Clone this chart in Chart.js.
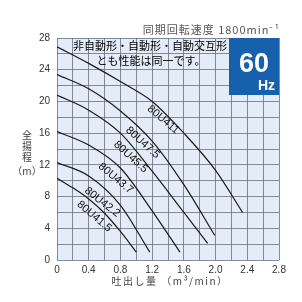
<!DOCTYPE html>
<html>
<head>
<meta charset="utf-8">
<script src="https://cdn.jsdelivr.net/npm/chart.js@4"></script>
<style>
  html, body { margin: 0; padding: 0; background: #fff; }
  #wrap { width: 302px; height: 302px; }
</style>
</head>
<body>
<div id="wrap"><canvas id="pumpChart" width="302" height="302"></canvas></div>
<script>
// tick labels
const xTicks = [0, 0.4, 0.8, 1.2, 1.6, 2.0, 2.4, 2.8];
const yTicks = [0, 4, 8, 12, 16, 20, 24, 28];

// pump models
const models = ['80U411', '80U47.5', '80U45.5', '80U43.7', '80U42.2', '80U41.5'];

// flow (m3/min) and head (m)
const q411 = [0, 0.4, 0.8, 1.2, 1.6, 2.0, 2.34];
const h411 = [26.9, 24.8, 22.5, 20.0, 16.0, 11.3, 6.0];
const q475 = [0, 0.4, 0.8, 1.2, 1.6, 1.99];
const h475 = [23.4, 21.6, 18.8, 15.0, 9.5, 3.1];
const q455 = [0, 0.4, 0.8, 1.2, 1.6, 1.9];
const h455 = [20.8, 18.9, 16.0, 11.2, 6.0, 2.1];
const q437 = [0, 0.4, 0.8, 1.2, 1.55];
const h437 = [16.2, 14.5, 11.6, 6.2, 1.0];
const q422 = [0, 0.4, 0.8, 1.17];
const h422 = [12.3, 10.6, 6.9, 1.0];
const q415 = [0, 0.2, 0.4, 0.6, 0.8, 1.0];
const h415 = [10.3, 9.1, 7.7, 5.9, 3.6, 1.0];

const flows = [q411, q475, q455, q437, q422, q415];
const heads = [h411, h475, h455, h437, h422, h415];

// where each model name sits (data coords) and its slant
const labelSpots = [
  { q: 1.34, h: 17.7, a: 40 },
  { q: 1.08, h: 14.8, a: 42 },
  { q: 0.93, h: 13.0, a: 42 },
  { q: 0.74, h: 10.3, a: 40 },
  { q: 0.57, h: 7.3, a: 38 },
  { q: 0.47, h: 5.5, a: 40 }
];

const datasets = models.map((m, i) => ({
  label: m,
  data: flows[i].map((q, j) => ({ x: q, y: heads[i][j] })),
  borderColor: '#1a1a1a',
  borderWidth: 1.2,
  pointRadius: 0,
  fill: false,
  cubicInterpolationMode: 'monotone'
}));

const JP = '"Noto Sans CJK JP", sans-serif';
const LAT = '"Liberation Sans", Arial, sans-serif';

const decor = {
  id: 'decor',
  beforeDraw(chart) {
    const { ctx, chartArea: a } = chart;
    ctx.save();
    ctx.fillStyle = '#e4edf7';
    ctx.fillRect(a.left, a.top, a.right - a.left, a.bottom - a.top);
    ctx.restore();
  },
  afterDatasetsDraw(chart) {
    const { ctx, chartArea: a, scales: { x, y } } = chart;
    ctx.save();

    // model names along the curves
    ctx.fillStyle = '#111';
    ctx.font = '11px ' + LAT;
    ctx.textAlign = 'center';
    ctx.textBaseline = 'middle';
    models.forEach((m, i) => {
      const s = labelSpots[i];
      ctx.save();
      ctx.translate(x.getPixelForValue(s.q), y.getPixelForValue(s.h));
      ctx.rotate(s.a * Math.PI / 180);
      ctx.fillText(m, 0, 0);
      ctx.restore();
    });

    // note inside the plot
    ctx.fillStyle = '#000';
    ctx.font = '11px ' + JP;
    ctx.textBaseline = 'middle';
    ctx.fillText('非自動形・自動形・自動交互形', 150, 46);
    ctx.fillText('とも性能は同一です。', 151, 61);

    // 60Hz badge
    ctx.fillStyle = '#1660ad';
    ctx.fillRect(229, a.top, a.right - 229, 57);
    ctx.fillStyle = '#fff';
    ctx.font = 'bold 27px ' + LAT;
    ctx.textAlign = 'center';
    ctx.textBaseline = 'alphabetic';
    ctx.fillText('60', 254, 72);
    ctx.font = 'bold 14px ' + LAT;
    ctx.textAlign = 'right';
    ctx.fillText('Hz', 275, 90);

    // speed caption
    ctx.fillStyle = '#555';
    ctx.font = '11px ' + JP;
    ctx.letterSpacing = '1px';
    ctx.textAlign = 'right';
    ctx.textBaseline = 'middle';
    ctx.fillText('同期回転速度 1800min⁻¹', 280, 30);

    // y axis title, stacked
    ctx.letterSpacing = '0px';
    ctx.fillStyle = '#444';
    ctx.font = '10px ' + JP;
    ctx.textAlign = 'center';
    ['全', '揚', '程'].forEach((c, i) => ctx.fillText(c, 27, 135 + i * 11));
    ctx.fillText('（m）', 27, 171);

    // x axis title
    ctx.font = '10px ' + JP;
    ctx.letterSpacing = '1.5px';
    ctx.fillText('吐出し量 （m³/min）', 170, 281);
    ctx.restore();
  }
};

new Chart(document.getElementById('pumpChart'), {
  type: 'line',
  data: { datasets },
  plugins: [decor],
  options: {
    responsive: false,
    animation: false,
    events: [],
    layout: { padding: { top: 38, right: 23, left: 0, bottom: 0 } },
    plugins: { legend: { display: false }, tooltip: { enabled: false } },
    scales: {
      x: {
        type: 'linear',
        min: 0,
        max: 2.8,
        afterFit: s => { s.height = 42; },
        border: { display: false },
        grid: { color: '#66717e', lineWidth: 0.8, drawTicks: false },
        ticks: {
          stepSize: 0.2,
          padding: 4,
          color: '#333',
          font: { family: LAT, size: 10 },
          maxRotation: 0,
          autoSkip: false,
          callback: v => {
            const t = xTicks.find(k => Math.abs(k - v) < 1e-6);
            return t === undefined ? '' : (t === 0 ? '0' : t.toFixed(1));
          }
        }
      },
      y: {
        type: 'linear',
        min: 0,
        max: 28,
        afterFit: s => { s.width = 57; },
        border: { display: false },
        grid: { color: '#66717e', lineWidth: 0.8, drawTicks: false },
        ticks: {
          stepSize: 2,
          padding: 7,
          color: '#333',
          font: { family: LAT, size: 10 },
          autoSkip: false,
          callback: v => yTicks.includes(v) ? String(v) : ''
        }
      }
    }
  }
});
</script>
</body>
</html>
